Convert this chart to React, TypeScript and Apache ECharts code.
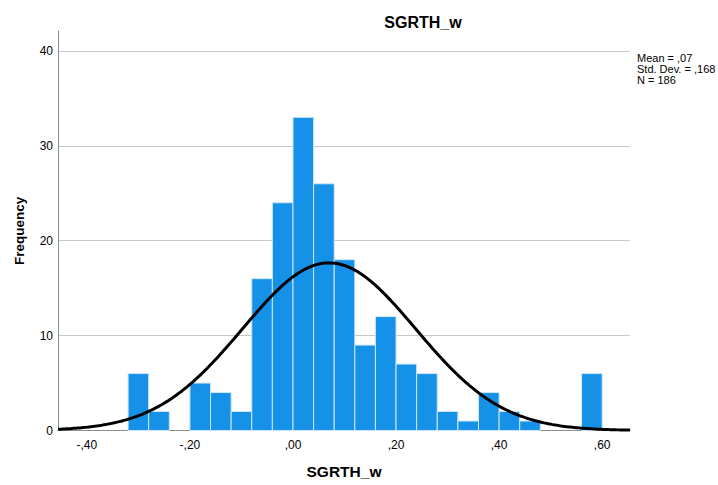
import React, { useEffect, useRef } from "react";
import * as echarts from "echarts";

// Histogram bins (lower edge, upper edge) and frequencies
const binLower = [-0.32, -0.28, -0.24, -0.2, -0.16, -0.12, -0.08, -0.04, 0.0, 0.04, 0.08, 0.12, 0.16, 0.2, 0.24, 0.28, 0.32, 0.36, 0.4, 0.44, 0.48, 0.52, 0.56];
const binUpper = [-0.28, -0.24, -0.2, -0.16, -0.12, -0.08, -0.04, 0.0, 0.04, 0.08, 0.12, 0.16, 0.2, 0.24, 0.28, 0.32, 0.36, 0.4, 0.44, 0.48, 0.52, 0.56, 0.6];
const frequencies = [6, 2, 0, 5, 4, 2, 16, 24, 33, 26, 18, 9, 12, 7, 6, 2, 1, 4, 2, 1, 0, 0, 6];

// Summary statistics shown on the chart (normal curve parameters)
const statMean = [0.07];
const statSD = [0.168];
const statN = [186];
const statLabels = ["Mean = ,07", "Std. Dev. = ,168", "N = 186"];

// Axis tick labels
const xTicks = [-0.4, -0.2, 0, 0.2, 0.4, 0.6];
const yTicks = [0, 10, 20, 30, 40];

const X_MIN = -0.456;
const X_MAX = 0.654;
const Y_MAX = 42.1;

const fmtComma = (v: number) => {
  const s = Math.abs(v).toFixed(2).replace(/^0/, "").replace(".", ",");
  return (v < 0 ? "-" : "") + s;
};

export default function App() {
  const ref = useRef<HTMLDivElement>(null);
  useEffect(() => {
    if (!ref.current) return;
    const chart = echarts.init(ref.current, undefined, { renderer: "svg" });
    const binW = binUpper[0] - binLower[0];
    const mean = statMean[0];
    const sd = statSD[0];
    const n = statN[0];
    const curve: number[][] = [];
    const steps = 300;
    for (let i = 0; i <= steps; i++) {
      const x = X_MIN + ((X_MAX - X_MIN) * i) / steps;
      const z = (x - mean) / sd;
      const y = (n * binW * Math.exp(-0.5 * z * z)) / (sd * Math.sqrt(2 * Math.PI));
      curve.push([x, y]);
    }
    const histData = frequencies.map((f, i) => [binLower[i], binUpper[i], f]);
    const font = "Arial, 'Liberation Sans', sans-serif";
    chart.setOption({
      animation: false,
      backgroundColor: "#ffffff",
      title: {
        text: "SGRTH_w",
        left: 418,
        top: 9,
        textAlign: "center",
        textStyle: { fontFamily: font, fontSize: 16, fontWeight: "bold", color: "#000" },
      },
      grid: { left: 58, right: 88, top: 31, bottom: 54.5, containLabel: false },
      xAxis: {
        type: "value",
        min: X_MIN,
        max: X_MAX,
        name: "SGRTH_w",
        nameLocation: "middle",
        nameGap: 33,
        nameTextStyle: { fontFamily: font, fontSize: 15.5, fontWeight: "bold", color: "#000" },
        axisLine: { show: true, onZero: false, lineStyle: { color: "#8c8c8c", width: 1 } },
        axisTick: { show: false },
        splitLine: { show: false },
        axisLabel: {
          customValues: xTicks,
          formatter: (v: number) => fmtComma(v),
          fontFamily: font,
          fontSize: 12,
          color: "#000",
          margin: 8,
        },
      },
      yAxis: {
        type: "value",
        min: 0,
        max: Y_MAX,
        name: "Frequency",
        nameLocation: "middle",
        nameGap: 32,
        nameRotate: 90,
        nameTextStyle: { fontFamily: font, fontSize: 13.5, fontWeight: "bold", color: "#000" },
        axisLine: { show: true, onZero: false, lineStyle: { color: "#8c8c8c", width: 1 } },
        axisTick: { show: false },
        interval: 10,
        splitLine: {
          show: true,
          showMinLine: false,
          showMaxLine: false,
          lineStyle: { color: "#c8c8c8", width: 1 },
        },
        axisLabel: {
          customValues: yTicks,
          fontFamily: font,
          fontSize: 12,
          color: "#000",
          margin: 5,
        },
      },
      graphic: [
        {
          type: "text",
          left: 637,
          top: 52,
          style: {
            text: statLabels.join("\n"),
            fontFamily: font,
            fontSize: 11,
            lineHeight: 11,
            fill: "#000",
          },
        },
      ],
      series: [
        {
          type: "custom",
          data: histData,
          encode: { x: [0, 1], y: 2 },
          renderItem: (params: any, api: any) => {
            const lo = api.value(0);
            const hi = api.value(1);
            const f = api.value(2);
            if (!f) return null;
            const p0 = api.coord([lo, 0]);
            const p1 = api.coord([hi, f]);
            return {
              type: "rect",
              shape: { x: p0[0], y: p1[1], width: p1[0] - p0[0], height: p0[1] - p1[1] },
              style: { fill: "#1591e8", stroke: "#cfe7fb", lineWidth: 1 },
            };
          },
          z: 2,
        },
        {
          type: "line",
          data: curve,
          showSymbol: false,
          smooth: false,
          lineStyle: { color: "#000", width: 3 },
          z: 5,
        },
      ],
    });
    return () => chart.dispose();
  }, []);
  return (
    <div
      ref={ref}
      style={{ position: "fixed", left: 0, top: 0, width: 718, height: 485, background: "#fff" }}
    />
  );
}
